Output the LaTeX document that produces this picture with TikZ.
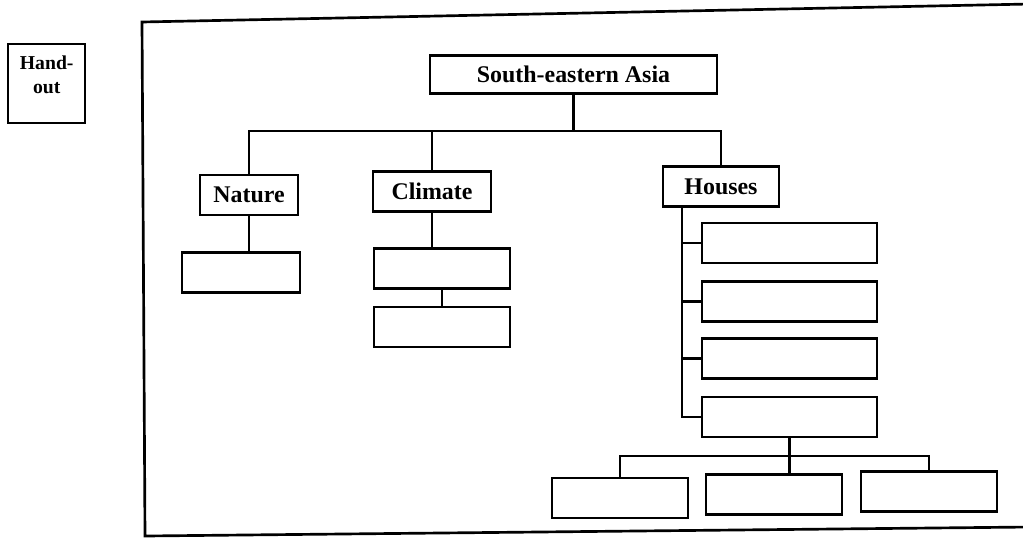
\documentclass[tikz,border=0pt]{standalone}
\usepackage{fontspec}
\setmainfont{Liberation Serif}
\usepackage{tikz}
\usetikzlibrary{positioning}

\begin{document}
\begin{tikzpicture}[x=0.025cm,y=-0.025cm,line width=1.7pt,
  title/.style={draw,inner sep=0pt,minimum height=1cm,font=\bfseries\fontsize{17}{20}\selectfont},
  blank/.style={draw,inner sep=0pt,minimum width=3.4cm,minimum height=1cm},
  wide/.style={blank,minimum width=4.375cm}]
\useasboundingbox (0,0) rectangle (1023,542);
% hand-out label and frame
\node[draw,inner sep=0pt,anchor=north west,font=\bfseries\fontsize{14}{17}\selectfont](handout) at (7,43)
  {\parbox[t][1.975cm][t]{1.925cm}{\centering\rule{0pt}{0.625cm}Hand-\\out}};
\draw[line width=1.9pt](1030,4)--(142,22)--(145,536)--(1030,527);
% top of the tree
\node[title,minimum width=7.175cm,minimum height=0.95cm](root) at (573.5,74.5) {South-eastern Asia};
\node[title,minimum width=2.45cm](nature) at (249,195) {Nature};
\node[title,minimum width=2.95cm](climate) at (432,191.5) {Climate};
\node[title,minimum width=2.9cm](houses) at (721,186.5) {Houses};
\coordinate (topbar) at (0,131);
\draw(root.south)--(root.south|-topbar);
\draw(nature.north)--(nature.north|-topbar)--(houses.north|-topbar)--(houses.north);
\draw(climate.north)--(climate.north|-topbar);
% nature and climate
\node[blank,minimum width=2.95cm](n1) at (241,272.5) {};
\node[blank](c1) at (442,268.5) {};
\node[blank](c2) at (442,327) {};
\draw(nature.south)--(nature.south|-n1.north);
\draw(climate.south)--(climate.south|-c1.north);
\draw(c1.south)--(c1.south|-c2.north);
% houses
\node[wide](h1) at (789.5,243) {};
\node[wide](h2) at (789.5,301.5) {};
\node[wide](h3) at (789.5,358.5) {};
\node[wide](h4) at (789.5,417) {};
\coordinate (spine) at ([xshift=0.5cm]houses.south west);
\draw(spine)|-(h4.west);
\foreach \b in {h1,h2,h3} \draw(spine|-\b.west)--(\b.west);
\node[blank](ba) at (620,498) {};
\node[blank](bb) at (774,494.5) {};
\node[blank](bc) at (929,491.5) {};
\coordinate (lowbar) at (0,456);
\draw(h4.south)--(h4.south|-bb.north);
\draw(ba.north)--(ba.north|-lowbar)--(bc.north|-lowbar)--(bc.north);
\end{tikzpicture}
\end{document}
